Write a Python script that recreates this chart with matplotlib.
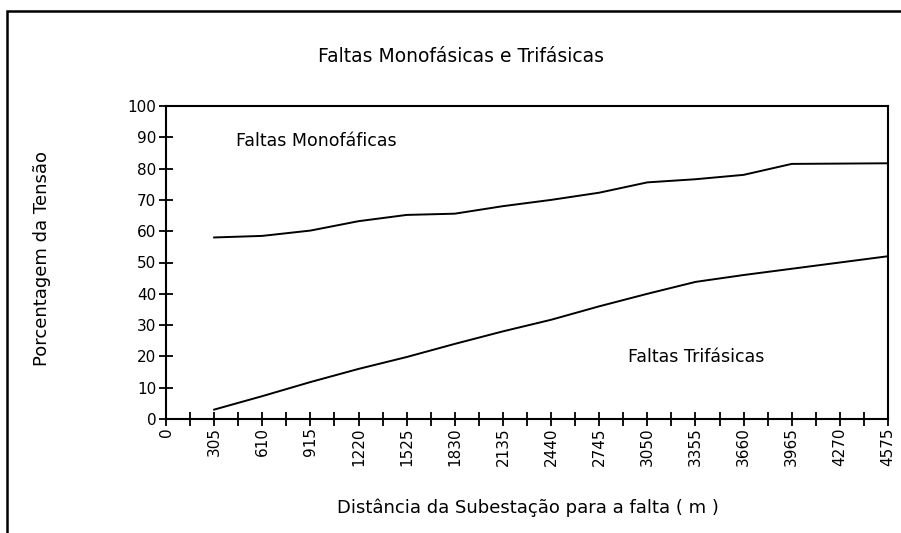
import matplotlib
import matplotlib.pyplot as plt
from matplotlib.patches import Rectangle
from matplotlib.ticker import MultipleLocator

matplotlib.use('Agg')

# distances (m) where the voltage was read
distancia = [305, 610, 915, 1220, 1525, 1830, 2135, 2440, 2745, 3050, 3355, 3660, 3965, 4270, 4575]
# single-phase faults
monofasicas = [58, 58.5, 60.2, 63.2, 65.2, 65.6, 68, 70, 72.3, 75.6, 76.6, 78, 81.5, 81.6, 81.7]
# three-phase faults
trifasicas = [3, 7.3, 11.8, 16, 19.8, 24, 28, 31.7, 36, 40, 43.8, 46, 48, 50, 52]

fig = plt.figure(figsize=(9.01, 5.33), dpi=100)
ax = fig.add_axes([166 / 901, 1 - 419 / 533, 722 / 901, 313 / 533])

ax.plot(distancia, monofasicas, color='black', lw=1.4)
ax.plot(distancia, trifasicas, color='black', lw=1.4)

ax.set_xlim(0, 4575)
ax.set_ylim(0, 100)
ax.xaxis.set_major_locator(MultipleLocator(305))
ax.xaxis.set_minor_locator(MultipleLocator(152.5))
ax.yaxis.set_major_locator(MultipleLocator(10))
ax.tick_params(which='both', direction='inout', length=10, width=1.3, colors='black', labelsize=11)
ax.tick_params(axis='x', labelrotation=90, pad=1)
ax.tick_params(axis='y', pad=2)
for s in ax.spines.values():
    s.set_linewidth(1.5)

ax.text(443, 88.8, 'Faltas Monofáficas', fontsize=12.5, va='center', ha='left')
ax.text(2928, 19.8, 'Faltas Trifásicas', fontsize=12.5, va='center', ha='left')

fig.text(461 / 901, 1 - 57 / 533, 'Faltas Monofásicas e Trifásicas', fontsize=13.5, ha='center', va='center')
fig.text(42 / 901, 1 - 259 / 533, 'Porcentagem da Tensão', fontsize=13, rotation=90, ha='center', va='center')
fig.text(528 / 901, 1 - 508 / 533, 'Distância da Subestação para a falta ( m )', fontsize=13, ha='center', va='center')

# outer chart border (runs off the right and bottom edge)
fig.patches.append(Rectangle((7 / 901, -0.1), 1.2, 1 - 11 / 533 + 0.1, transform=fig.transFigure,
                             fill=False, edgecolor='black', lw=1.8))

fig.savefig('out.png', dpi=100)
